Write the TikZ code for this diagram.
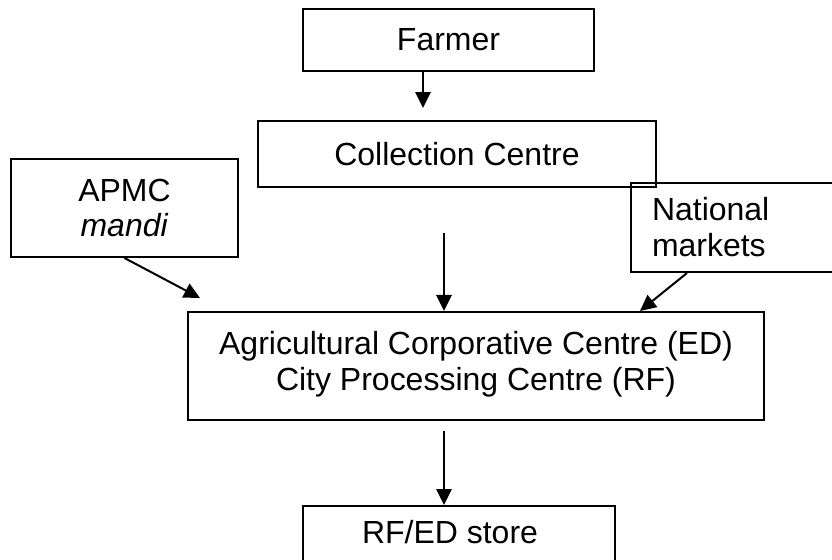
\documentclass[tikz,border=0pt]{standalone}
\usepackage{fontspec}
\setmainfont{Liberation Sans}
\usepackage{tikz}
\usetikzlibrary{arrows.meta}

\tikzset{
  box/.style={draw, line width=0.06cm, rectangle, align=center, inner sep=0pt},
  arr/.style={line width=0.06cm, -{Triangle[length=0.48cm,width=0.46cm]}}
}

\begin{document}
\begin{tikzpicture}[x=0.03cm, y=-0.03cm, font=\fontsize{27.3pt}{30.7pt}\selectfont]
			\useasboundingbox (0,0) rectangle (832,560);
			\clip (0,0) rectangle (832,560);
			
			% draw boxes
			\node[box, minimum width=8.73cm, minimum height=1.86cm] (farmer) at (448.5,40) {Farmer};
			\node[box, minimum width=11.94cm, minimum height=1.98cm] (collect) at (457,154) {Collection Centre};
			\node[box, minimum width=6.81cm, minimum height=2.94cm] (apmc) at (124.5,208) {APMC\\\textit{mandi}};
			\node[box, minimum width=8.07cm, minimum height=2.67cm, text width=6.81cm, inner xsep=0.63cm, align=left] (national) at (765.5,227.5) {National\\markets};
			\node[box, minimum width=17.28cm, minimum height=3.24cm, text depth=0.3cm] (main) at (476,366) {Agricultural Corporative Centre (ED)\\City Processing Centre (RF)};
			\node[box, minimum width=9.36cm, minimum height=3cm, anchor=north] (store) at (459,505) {};
			\node (storetext) at (450,532) {RF/ED store};
			
			% arrow ends
			\coordinate (f1) at (423,108);
			\coordinate (c1) at (444,233);
			\coordinate (a1) at (200,298);
			\coordinate (n1) at (687,0);
			\coordinate (n2) at (640,0);
			\coordinate (m1) at (444,431);
			
			% draw arrows
			\draw[arr] (f1 |- farmer.south) -- (f1);
			\draw[arr] (c1) -- (c1 |- main.north);
			\draw[arr] (apmc.south) -- (a1);
			\draw[arr] (n1 |- national.south) -- (n2 |- main.north);
			\draw[arr] (m1) -- (m1 |- store.north);
\end{tikzpicture}
\end{document}
